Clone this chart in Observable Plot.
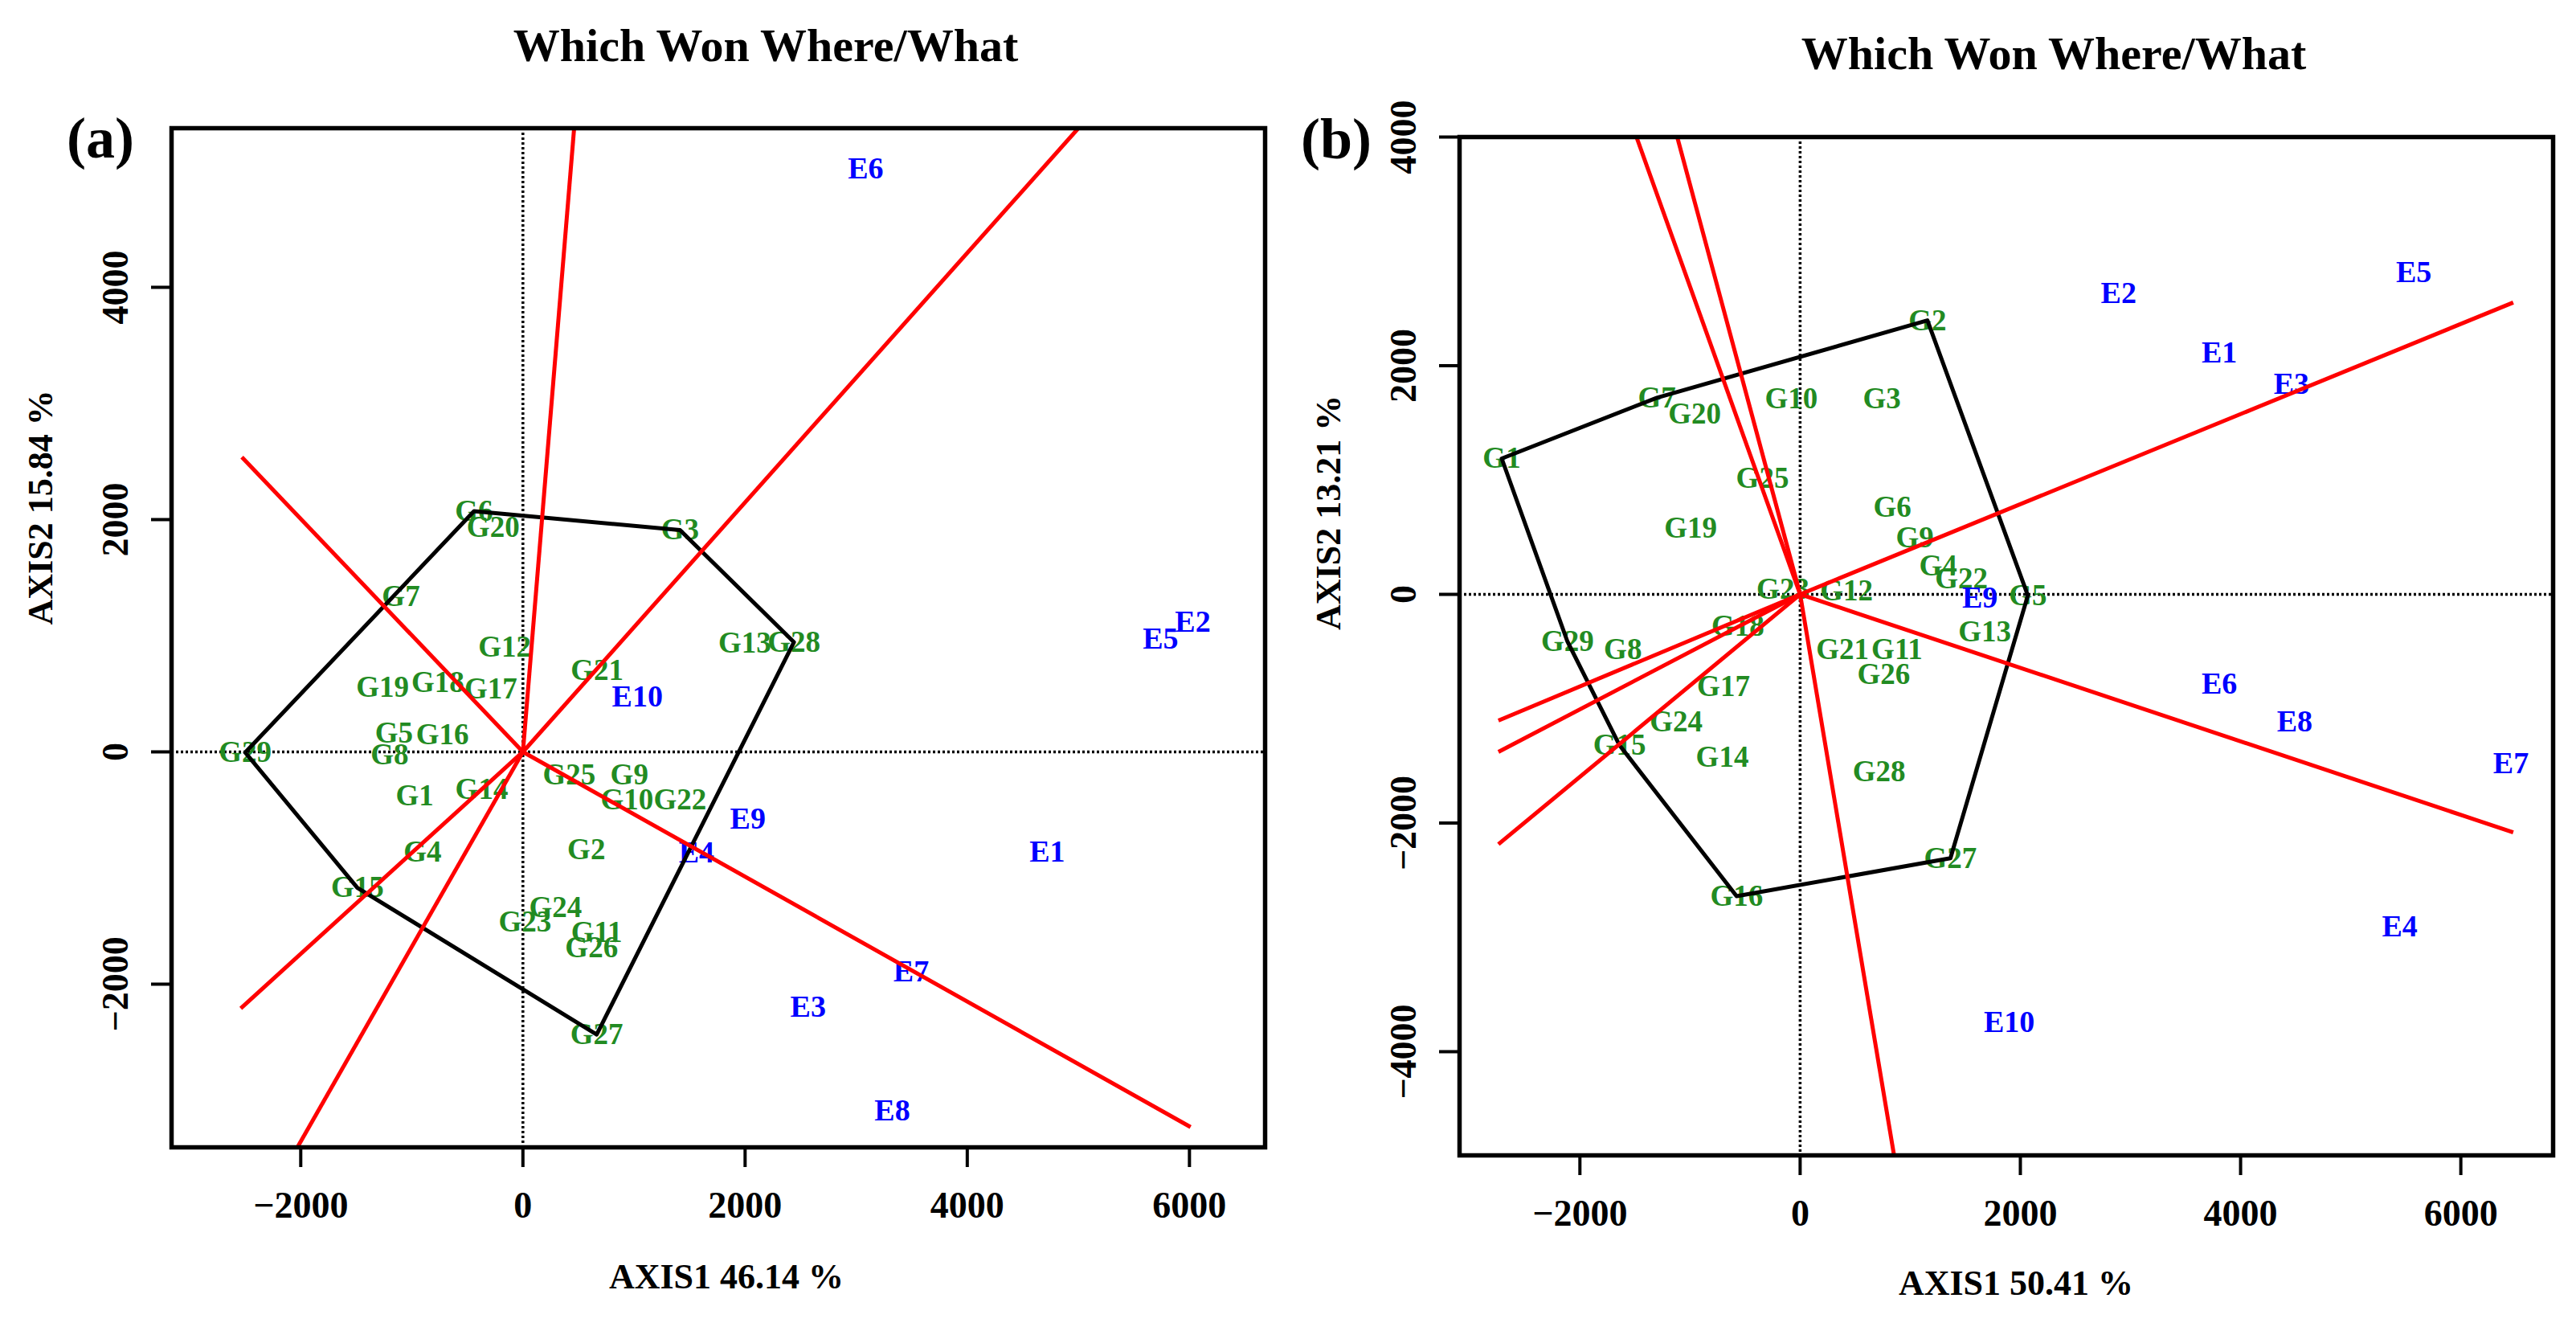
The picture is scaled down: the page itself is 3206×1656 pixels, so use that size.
<!DOCTYPE html>
<html>
<head>
<meta charset="utf-8">
<script src="https://cdn.jsdelivr.net/npm/d3@7"></script>
<script src="https://cdn.jsdelivr.net/npm/@observablehq/plot@0.6"></script>
<style>
  html, body { margin: 0; padding: 0; background: #fff; }
  #page { position: relative; width: 3206px; height: 1656px; background: #fff; overflow: hidden; }
  .abs { position: absolute; z-index: 5; font-family: "Liberation Serif", "Times New Roman", serif; font-weight: bold; color: #000; line-height: 1; white-space: nowrap; transform: translate(-50%, -50%); }
  .title { font-size: 58px; }
  .tag { font-size: 72px; font-weight: bold; }
  .panel { position: absolute; top: 0; z-index: 1; }
</style>
</head>
<body>
<div id="page">
  <div id="pa" class="panel" style="left:0px;"></div>
  <div id="pb" class="panel" style="left:1600px;"></div>
  <div class="abs title" style="left:953px; top:57px;">Which Won Where/What</div>
  <div class="abs title" style="left:2556px; top:67px;">Which Won Where/What</div>
  <div class="abs tag" style="left:125px; top:172px;">(a)</div>
  <div class="abs tag" style="left:1663px; top:173px;">(b)</div>
</div>
<script>
// ---------- data ----------
const genotypes = ["G1","G2","G3","G4","G5","G6","G7","G8","G9","G10","G11","G12","G13","G14","G15",
  "G16","G17","G18","G19","G20","G21","G22","G23","G24","G25","G26","G27","G28","G29"];
const environments = ["E1","E2","E3","E4","E5","E6","E7","E8","E9","E10"];

// Panel (a) genotype scores
const aGenoX = [-974, 571, 1414, -904, -1160, -440, -1098, -1200, 958, 937, 664, -164, 1996, -371, -1490,
  -724, -289, -766, -1264, -268, 667, 1414, 18, 294, 417, 618, 664, 2440, -2500];
const aGenoY = [-381, -842, 1910, -865, 161, 2072, 1338, -23, -196, -415, -1557, 900, 934, -323, -1170,
  150, 542, 600, 554, 1931, 704, -415, -1465, -1338, -196, -1684, -2434, 945, -5];
// Panel (a) environment scores
const aEnvX = [4720, 6030, 2567, 1563, 5740, 3085, 3495, 3325, 2025, 1030];
const aEnvY = [-861, 1116, -2196, -868, 975, 5025, -1893, -3088, -574, 473];
// Panel (a) polygon vertices (in order) and sector rays (end points from origin)
const aHull = ["G29","G6","G3","G28","G27","G15","G29"];
const aRayX = [461, 5000, -2530, 6010, -2540, -2030];
const aRayY = [5370, 5370, 2538, -3230, -2208, -3405];

// Panel (b) genotype scores
const bGenoX = [-2710, 1156, 743, 1253, 2068, 838, -1300, -1610, 1042, -81, 880, 422, 1676, -707, -1640,
  -577, -696, -566, -995, -957, 385, 1464, -156, -1125, -342, 759, 1365, 717, -2113];
const bGenoY = [1188, 2396, 1713, 250, -10, 762, 1720, -480, 497, 1712, -485, 31, -326, -1425, -1320,
  -2640, -803, -278, 582, 1578, -480, 137, 44, -1113, 1013, -700, -2308, -1549, -413];
// Panel (b) environment scores
const bEnvX = [3807, 2892, 4462, 5445, 5573, 3807, 6455, 4491, 1633, 1899];
const bEnvY = [2115, 2633, 1843, -2905, 2815, -785, -1476, -1116, -30, -3744];
// Panel (b) polygon and rays
const bHull = ["G1","G7","G2","G5","G27","G16","G15","G29","G1"];
const bRayX = [-1486, -1116, 6476, 6476, 853, -2740, -2740, -2740];
const bRayY = [4000, 4000, 2553, -2082, -4907, -1104, -1378, -2186];

// axis settings
const aXDomain = [-3163, 6681], aYDomain = [-3405, 5370];
const bXDomain = [-3093, 6838], bYDomain = [-4907, 4000];
const xTicks = [-2000, 0, 2000, 4000, 6000];
const aYTicks = [-2000, 0, 2000, 4000];
const bYTicks = [-4000, -2000, 0, 2000, 4000];
const aXLabel = "AXIS1 46.14 %", aYLabel = "AXIS2 15.84 %";
const bXLabel = "AXIS1 50.41 %", bYLabel = "AXIS2 13.21 %";

// ---------- drawing ----------
const GREEN = "#228B22", BLUE = "#0000FF", RED = "#FF0000";
const fmt = d => d < 0 ? "\u2212" + Math.abs(d) : String(d);

function panel(o) {
  const gen = genotypes.map((name, i) => ({name, x: o.gx[i], y: o.gy[i]}));
  const env = environments.map((name, i) => ({name, x: o.ex[i], y: o.ey[i]}));
  const hullPts = o.hull.map(n => gen.find(d => d.name === n));
  const rays = o.rx.map((x, i) => ({x1: 0, y1: 0, x2: x, y2: o.ry[i]}));
  return Plot.plot({
    width: o.width, height: 1656,
    marginLeft: o.ml, marginRight: o.mr, marginTop: o.mt, marginBottom: o.mb,
    x: {domain: o.xd},
    y: {domain: o.yd},
    style: {fontFamily: "'Liberation Serif', 'Times New Roman', serif", fontWeight: "bold", background: "transparent", color: "black"},
    marks: [
      Plot.ruleX([0], {stroke: "black", strokeWidth: 3.5, strokeDasharray: "3,3"}),
      Plot.ruleY([0], {stroke: "black", strokeWidth: 3.5, strokeDasharray: "3,3"}),
      Plot.text(gen, {x: "x", y: "y", text: "name", fill: GREEN, fontSize: 37, fontWeight: "bold"}),
      Plot.text(env, {x: "x", y: "y", text: "name", fill: BLUE, fontSize: 38, fontWeight: "bold"}),
      Plot.line(hullPts, {x: "x", y: "y", stroke: "black", strokeWidth: 5, curve: "linear"}),
      Plot.link(rays, {x1: "x1", y1: "y1", x2: "x2", y2: "y2", stroke: RED, strokeWidth: 5, clip: true}),
      Plot.frame({stroke: "black", strokeWidth: 5.5}),
      Plot.axisX(xTicks, {tickSize: 25, tickPadding: 30, fontSize: 46, fontWeight: "bold", strokeWidth: 4, tickFormat: fmt, label: null}),
      Plot.axisY(o.yt, {tickSize: 25, tickPadding: 30, tickRotate: -90, fontSize: 46, fontWeight: "bold", strokeWidth: 4, tickFormat: fmt, label: null}),
      Plot.text([o.xl], {text: d => d, frameAnchor: "bottom", dx: o.xldx, dy: o.xldy, fontSize: 44, fontWeight: "bold", fill: "black"}),
      Plot.text([o.yl], {text: d => d, frameAnchor: "left", rotate: -90, dx: -163, dy: o.yldy, fontSize: 44, fontWeight: "bold", fill: "black"})
    ]
  });
}

document.getElementById("pa").append(panel({
  gx: aGenoX, gy: aGenoY, ex: aEnvX, ey: aEnvY, hull: aHull, rx: aRayX, ry: aRayY,
  xd: aXDomain, yd: aYDomain, yt: aYTicks, xl: aXLabel, yl: aYLabel,
  width: 1600, ml: 213, mr: 26, mt: 159, mb: 229, xldx: 10, xldy: 175, yldy: -16
}));
document.getElementById("pb").append(panel({
  gx: bGenoX, gy: bGenoY, ex: bEnvX, ey: bEnvY, hull: bHull, rx: bRayX, ry: bRayY,
  xd: bXDomain, yd: bYDomain, yt: bYTicks, xl: bXLabel, yl: bYLabel,
  width: 1606, ml: 216, mr: 29, mt: 170, mb: 219, xldx: 12, xldy: 173, yldy: -20
}));
</script>
</body>
</html>
